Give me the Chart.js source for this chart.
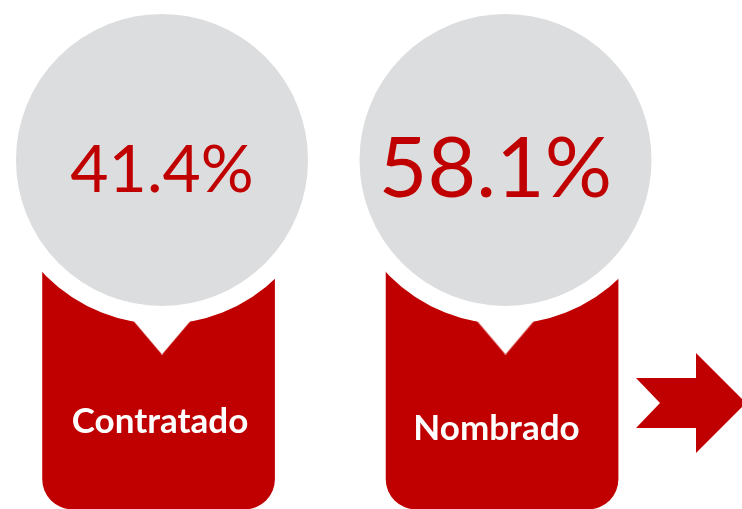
<!DOCTYPE html>
<html>
<head>
<meta charset="utf-8">
<script src="https://cdn.jsdelivr.net/npm/chart.js@4/dist/chart.umd.min.js"></script>
<style>
  html, body { margin: 0; padding: 0; background: #fff; }
  #wrap { width: 742px; height: 509px; }
</style>
</head>
<body>
<div id="wrap"><canvas id="chart"></canvas></div>
<script>
// data
const categories = ['Contratado', 'Nombrado'];
const percents = [41.4, 58.1];

// layout (y axis runs top -> bottom, in px of the 509px page)
const RED = '#C00000';
const GREY = '#DCDDDE';
const circleY = 160;
const boxTop = 250, boxBottom = 509;
const boxShift = -0.01;
const notchY = 328;
const arrowPos = { x: 1.54, y: 403 };
const pctSizes = [66, 84];
const pctBaseline = [192, 197];
const pctShift = [0, -10];
const nameBaseline = [433, 440];
const nameShift = [-2, -9];

// notch shape (white, wider than an equilateral triangle)
function notchImage() {
  const c = document.createElement('canvas');
  c.width = 90; c.height = 53;
  const g = c.getContext('2d');
  g.fillStyle = '#fff';
  g.beginPath();
  g.moveTo(0, 0); g.lineTo(90, 0); g.lineTo(45, 53);
  g.closePath(); g.fill();
  return c;
}

// chevron-tailed arrow
function arrowImage() {
  const c = document.createElement('canvas');
  c.width = 110; c.height = 100;
  const g = c.getContext('2d');
  g.fillStyle = RED;
  g.beginPath();
  g.moveTo(0, 25); g.lineTo(60, 25); g.lineTo(60, 0); g.lineTo(110, 50);
  g.lineTo(60, 100); g.lineTo(60, 75); g.lineTo(0, 75); g.lineTo(24, 50);
  g.closePath(); g.fill();
  return c;
}

const labelsPlugin = {
  id: 'labels',
  afterDatasetsDraw(chart) {
    const ctx = chart.ctx;
    const circles = chart.getDatasetMeta(0).data;
    ctx.save();
    ctx.textAlign = 'center';
    ctx.textBaseline = 'alphabetic';
    ctx.fillStyle = RED;
    circles.forEach((pt, i) => {
      ctx.font = pctSizes[i] + 'px Lato';
      ctx.fillText(percents[i].toFixed(1) + '%', pt.x + pctShift[i], pctBaseline[i]);
    });
    ctx.fillStyle = '#fff';
    ctx.font = 'bold 35px Lato';
    circles.forEach((pt, i) => {
      ctx.fillText(categories[i], pt.x + nameShift[i], nameBaseline[i]);
    });
    ctx.restore();
  }
};

new Chart(document.getElementById('chart'), {
  type: 'bar',
  data: {
    datasets: [
      {
        type: 'scatter',
        data: categories.map((c, i) => ({ x: i, y: circleY })),
        pointRadius: 155,
        pointBackgroundColor: GREY,
        pointBorderColor: '#fff',
        pointBorderWidth: 18,
        order: 0
      },
      {
        type: 'scatter',
        data: categories.map((c, i) => ({ x: i, y: notchY })),
        pointStyle: notchImage(),
        order: 1
      },
      {
        type: 'bar',
        data: categories.map((c, i) => ({ x: i + boxShift, y: [boxTop, boxBottom] })),
        backgroundColor: RED,
        barThickness: 232,
        borderSkipped: false,
        borderRadius: { topLeft: 0, topRight: 0, bottomLeft: 30, bottomRight: 30 },
        order: 2
      },
      {
        type: 'scatter',
        data: [arrowPos],
        pointStyle: arrowImage(),
        order: 3
      }
    ]
  },
  options: {
    responsive: true,
    maintainAspectRatio: false,
    animation: false,
    events: [],
    layout: { padding: 0, autoPadding: false },
    plugins: { legend: { display: false }, tooltip: { enabled: false } },
    scales: {
      x: { type: 'linear', min: -0.4716, max: 1.6885, offset: false, display: false },
      y: { type: 'linear', min: 0, max: 509, reverse: true, display: false }
    }
  },
  plugins: [labelsPlugin]
});
</script>
</body>
</html>
